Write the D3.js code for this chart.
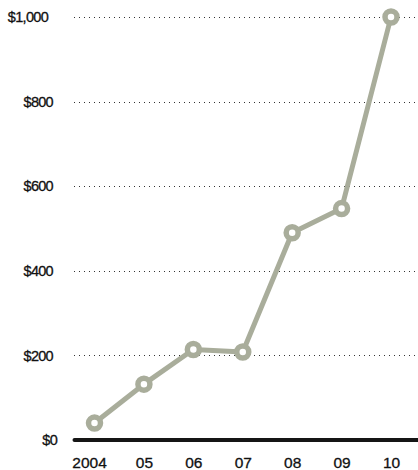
<!DOCTYPE html>
<html>
<head>
<meta charset="utf-8">
<script src="https://cdn.jsdelivr.net/npm/d3@7"></script>
<style>
    body { margin: 0; background: #fff; }
    .tick text { font-family: "Liberation Sans", Arial, sans-serif; fill: #111; stroke: #111; stroke-width: 0.3px; }
    .grid line { stroke: #333; stroke-width: 1; stroke-dasharray: 1,4; }
</style>
</head>
<body>
<script>
// chart data
var years = ["2004", "05", "06", "07", "08", "09", "10"];
var values = [40, 132, 214, 208, 490, 547, 1000];
var yTicks = [0, 200, 400, 600, 800, 1000];

window.onload = drawChart();

function drawChart(){
    var width = 418,
        height = 470;

    var svg = d3.select("body")
        .append("svg")
        .attr("width", width)
        .attr("height", height);

    //scales
    var x = d3.scalePoint()
        .domain(years)
        .range([94.5, 391]);

    var y = d3.scaleLinear()
        .domain([0, 1000])
        .range([440, 17]);

    //dotted gridlines
    svg.append("g")
        .attr("class", "grid")
        .selectAll("line")
        .data(yTicks.filter(function(d){ return d > 0; }))
        .enter()
        .append("line")
        .attr("x1", 74)
        .attr("x2", width)
        .attr("y1", function(d){ return Math.round(y(d)) + 0.5; })
        .attr("y2", function(d){ return Math.round(y(d)) + 0.5; });

    //y axis labels
    var yAxis = svg.append("g")
        .attr("transform", "translate(53,0)")
        .call(d3.axisLeft(y)
            .tickValues(yTicks)
            .tickSize(0)
            .tickPadding(0)
            .tickFormat(function(d){ return "$" + d3.format(",")(d); }));
    yAxis.select(".domain").remove();
    yAxis.selectAll("text")
        .style("font-size", "14.5px")
        .style("letter-spacing", "-0.7px")
        .attr("dx", function(d){ return d == 0 ? 4 : (d == 1000 ? -5 : 0); });

    //baseline
    svg.append("line")
        .attr("x1", 74.5)
        .attr("x2", width)
        .attr("y1", y(0))
        .attr("y2", y(0))
        .attr("stroke", "#151515")
        .attr("stroke-width", 4)
        .attr("stroke-linecap", "round");

    //x axis labels
    var xAxis = svg.append("g")
        .attr("transform", "translate(0,457)")
        .call(d3.axisBottom(x).tickSize(0).tickPadding(0));
    xAxis.select(".domain").remove();
    xAxis.selectAll("text")
        .style("font-size", "15.5px")
        .attr("dy", "0.71em")
        .attr("dx", function(d){ return d == "2004" ? -5.5 : 0; });

    //line
    var line = d3.line()
        .x(function(d, i){ return x(years[i]); })
        .y(function(d){ return y(d); });

    svg.append("path")
        .datum(values)
        .attr("d", line)
        .attr("fill", "none")
        .attr("stroke", "#a9ad9b")
        .attr("stroke-width", 5)
        .attr("stroke-linejoin", "round");

    //points
    svg.selectAll(".dot")
        .data(values)
        .enter()
        .append("circle")
        .attr("class", "dot")
        .attr("cx", function(d, i){ return x(years[i]); })
        .attr("cy", function(d){ return y(d); })
        .attr("r", 6)
        .attr("fill", "#fff")
        .attr("stroke", "#a9ad9b")
        .attr("stroke-width", 5.5);
};
</script>
</body>
</html>
